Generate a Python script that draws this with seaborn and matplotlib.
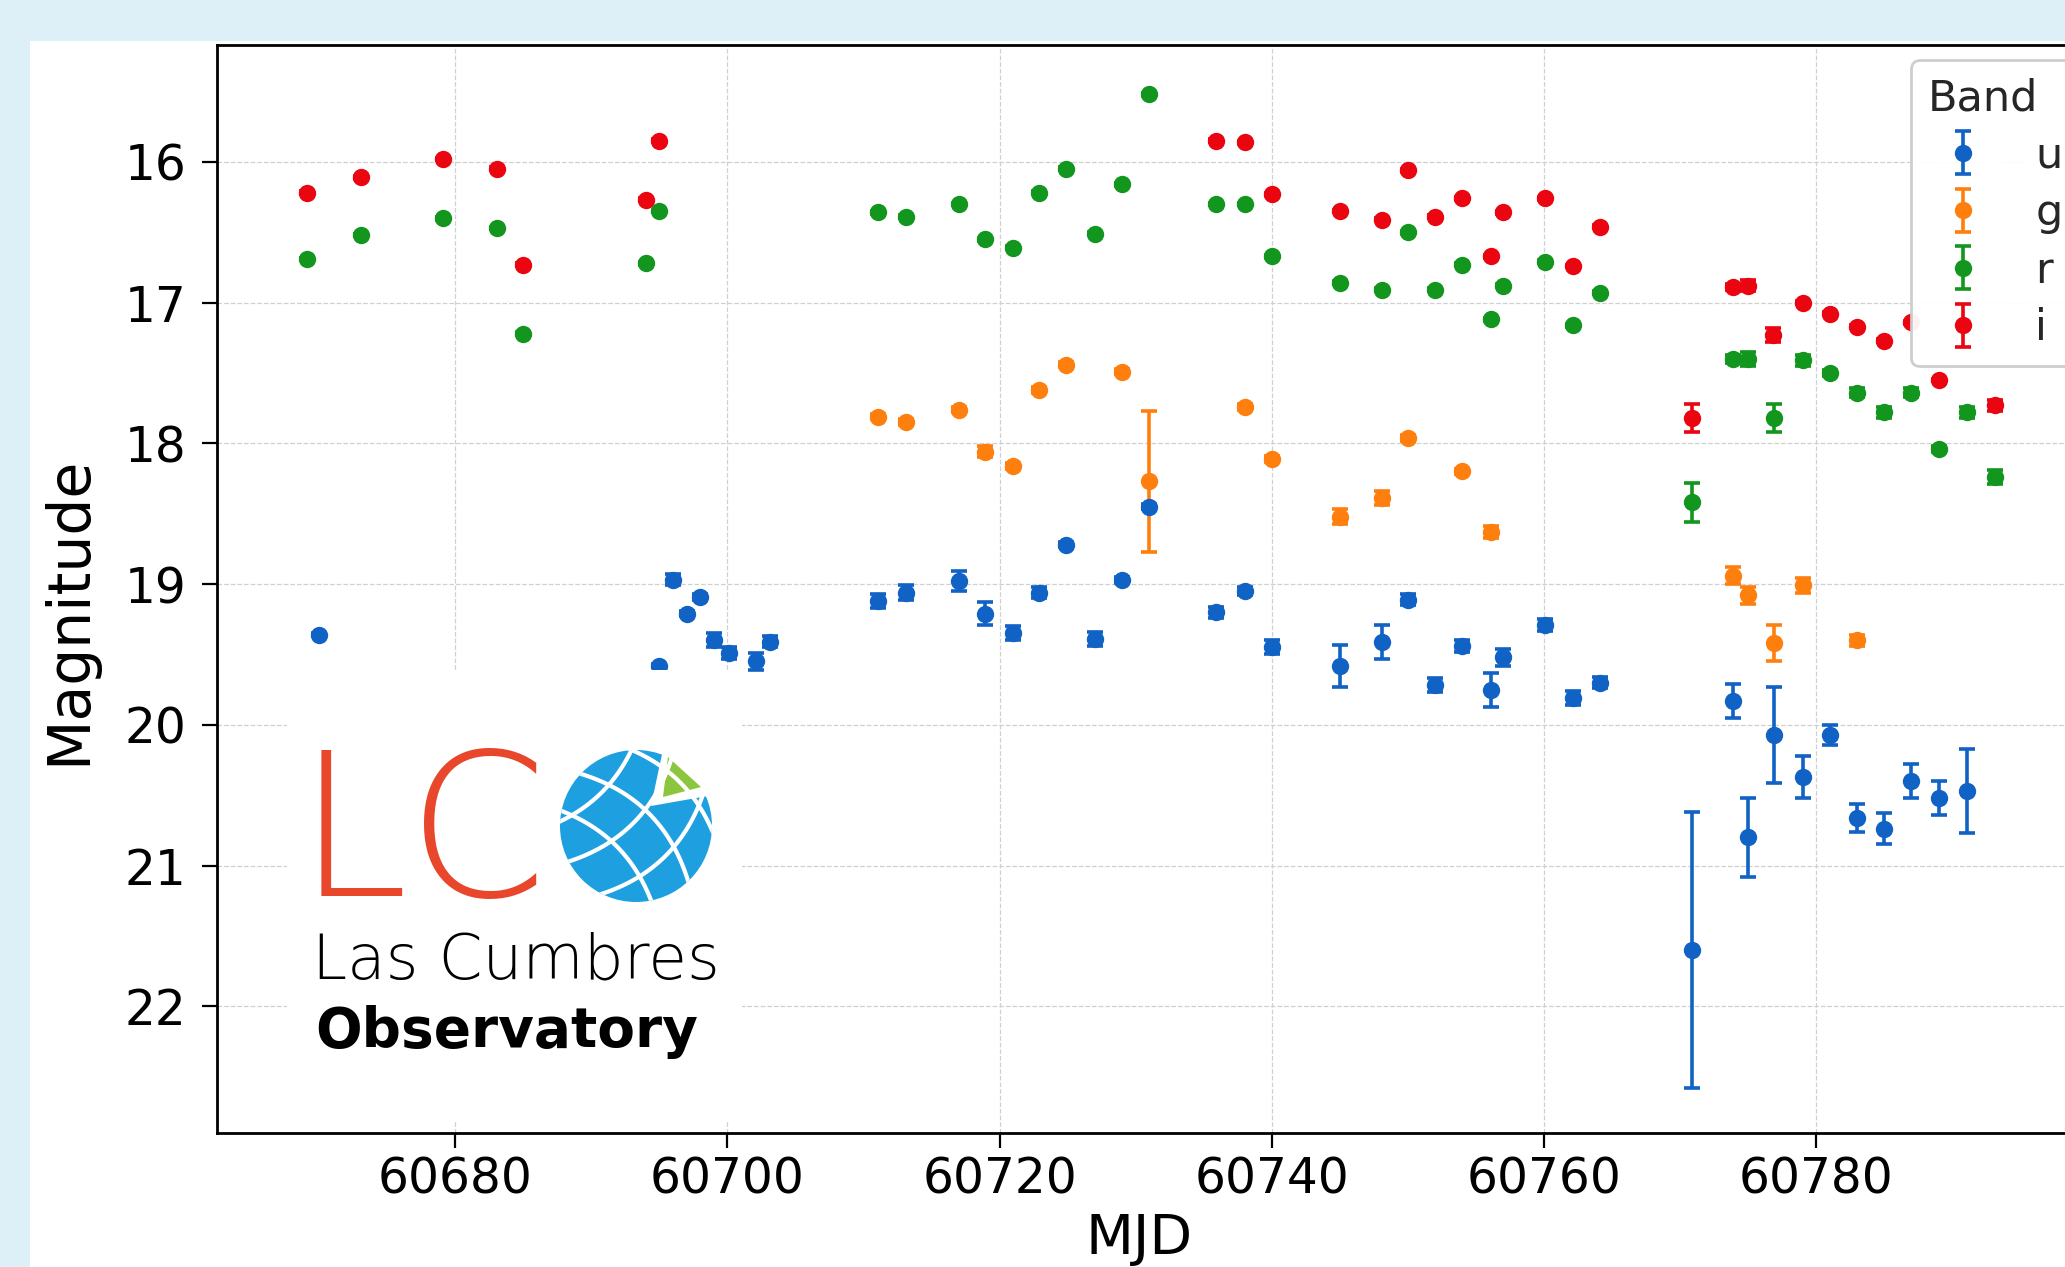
import numpy as np
import pandas as pd
import seaborn as sns
import matplotlib.pyplot as plt
from matplotlib.patches import Rectangle, Circle, Polygon

# light curve, one set of lists per band (MJD, magnitude, 1-sigma error)
u_mjd = [60670.0, 60695.0, 60696.0, 60697.0, 60698.0, 60699.0, 60700.1, 60702.1, 60703.1,
         60711.1, 60713.1, 60717.0, 60718.9, 60721.0, 60722.9, 60724.9, 60727.0, 60729.0,
         60731.0, 60735.9, 60738.0, 60740.0, 60745.0, 60748.1, 60750.0, 60752.0, 60754.0,
         60756.1, 60757.0, 60760.1, 60762.1, 60764.1, 60770.9, 60773.9, 60775.0, 60776.9,
         60779.0, 60781.0, 60783.0, 60785.0, 60787.0, 60789.0, 60791.1]
u_mag = [19.36, 19.58, 18.97, 19.21, 19.09, 19.40, 19.49, 19.55, 19.41,
         19.12, 19.06, 18.98, 19.21, 19.35, 19.06, 18.72, 19.39, 18.97,
         18.45, 19.20, 19.05, 19.45, 19.58, 19.41, 19.11, 19.72, 19.44,
         19.75, 19.52, 19.29, 19.81, 19.70, 21.60, 19.83, 20.80, 20.07,
         20.37, 20.07, 20.66, 20.74, 20.40, 20.52, 20.47]
u_err = [0.01, 0.01, 0.04, 0.02, 0.02, 0.05, 0.04, 0.06, 0.04,
         0.05, 0.05, 0.07, 0.08, 0.05, 0.04, 0.02, 0.05, 0.02,
         0.02, 0.04, 0.03, 0.05, 0.15, 0.12, 0.04, 0.05, 0.04,
         0.12, 0.06, 0.04, 0.05, 0.04, 0.98, 0.12, 0.28, 0.34,
         0.15, 0.07, 0.10, 0.11, 0.12, 0.12, 0.30]

g_mjd = [60711.1, 60713.1, 60717.0, 60718.9, 60721.0, 60722.9, 60724.9, 60729.0, 60731.0,
         60738.0, 60740.0, 60745.0, 60748.1, 60750.0, 60754.0, 60756.1, 60773.9, 60775.0,
         60776.9, 60779.0, 60783.0]
g_mag = [17.81, 17.85, 17.76, 18.06, 18.16, 17.62, 17.44, 17.49, 18.27,
         17.74, 18.11, 18.52, 18.39, 17.96, 18.20, 18.63, 18.94, 19.08,
         19.42, 19.01, 19.40]
g_err = [0.02, 0.02, 0.02, 0.04, 0.02, 0.02, 0.02, 0.02, 0.50,
         0.02, 0.02, 0.05, 0.05, 0.02, 0.02, 0.04, 0.06, 0.06,
         0.13, 0.05, 0.04]

r_mjd = [60669.1, 60673.1, 60679.1, 60683.1, 60685.0, 60694.0, 60695.0, 60711.1, 60713.1,
         60717.0, 60718.9, 60721.0, 60722.9, 60724.9, 60727.0, 60729.0, 60731.0, 60735.9,
         60738.0, 60740.0, 60745.0, 60748.1, 60750.0, 60752.0, 60754.0, 60756.1, 60757.0,
         60760.1, 60762.1, 60764.1, 60770.9, 60773.9, 60775.0, 60776.9, 60779.0, 60781.0,
         60783.0, 60785.0, 60787.0, 60789.0, 60791.1, 60793.1]
r_mag = [16.69, 16.52, 16.40, 16.47, 17.22, 16.72, 16.35, 16.36, 16.39,
         16.30, 16.55, 16.61, 16.22, 16.05, 16.51, 16.16, 15.52, 16.30,
         16.30, 16.67, 16.86, 16.91, 16.50, 16.91, 16.73, 17.12, 16.88,
         16.71, 17.16, 16.93, 18.42, 17.40, 17.40, 17.82, 17.41, 17.50,
         17.64, 17.78, 17.64, 18.04, 17.78, 18.24]
r_err = [0.01, 0.01, 0.01, 0.01, 0.01, 0.01, 0.01, 0.01, 0.01,
         0.01, 0.01, 0.01, 0.01, 0.01, 0.01, 0.01, 0.01, 0.01,
         0.01, 0.01, 0.01, 0.01, 0.01, 0.01, 0.01, 0.01, 0.01,
         0.01, 0.01, 0.01, 0.14, 0.03, 0.05, 0.10, 0.04, 0.02,
         0.03, 0.04, 0.03, 0.02, 0.04, 0.05]

i_mjd = [60669.1, 60673.1, 60679.1, 60683.1, 60685.0, 60694.0, 60695.0, 60735.9, 60738.0,
         60740.0, 60745.0, 60748.1, 60750.0, 60752.0, 60754.0, 60756.1, 60757.0, 60760.1,
         60762.1, 60764.1, 60770.9, 60773.9, 60775.0, 60776.8, 60779.0, 60781.0, 60783.0,
         60785.0, 60787.0, 60789.0, 60793.1]
i_mag = [16.22, 16.11, 15.98, 16.05, 16.73, 16.27, 15.85, 15.85, 15.86,
         16.23, 16.35, 16.41, 16.06, 16.39, 16.26, 16.67, 16.36, 16.26,
         16.74, 16.46, 17.82, 16.89, 16.88, 17.23, 17.00, 17.08, 17.17,
         17.27, 17.14, 17.55, 17.73]
i_err = [0.01, 0.01, 0.01, 0.01, 0.01, 0.01, 0.01, 0.01, 0.01,
         0.01, 0.01, 0.01, 0.01, 0.01, 0.01, 0.01, 0.01, 0.01,
         0.01, 0.01, 0.10, 0.02, 0.04, 0.05, 0.01, 0.01, 0.01,
         0.01, 0.01, 0.01, 0.04]

bands = ['u', 'g', 'r', 'i']
band_colors = ['#1062c4', '#ff7f0e', '#12961e', '#eb0510']
x_ticks = [60680, 60700, 60720, 60740, 60760, 60780]
y_ticks = [16, 17, 18, 19, 20, 21, 22]

frames = []
for b, m, y, e in [('u', u_mjd, u_mag, u_err), ('g', g_mjd, g_mag, g_err),
                   ('r', r_mjd, r_mag, r_err), ('i', i_mjd, i_mag, i_err)]:
    frames.append(pd.DataFrame({'band': b, 'mjd': m, 'mag': y, 'err': e}))
df = pd.concat(frames, ignore_index=True)

W, H = 2065, 1267
sns.set_theme(style='ticks')
plt.rcParams['font.family'] = ['DejaVu Sans']

fig = plt.figure(figsize=(W / 100, H / 100), dpi=100, facecolor='#ddeff7')
# white card behind the plot
fig.add_artist(Rectangle((30 / W, 0), 1, 1 - 41 / H, transform=fig.transFigure,
                         facecolor='white', edgecolor='none', zorder=-1))

ax = fig.add_axes([217 / W, 1 - 1133 / H, (2068 - 217) / W, (1133 - 45) / H])
ax.set_facecolor('white')

palette = dict(zip(bands, band_colors))
for b in bands:
    sub = df[df['band'] == b]
    cont = ax.errorbar(sub['mjd'], sub['mag'], yerr=sub['err'], fmt='o', color=palette[b],
                       ms=12.5, elinewidth=2.6, capsize=6, capthick=2.6, label=b)
    cont[0].set_markeredgewidth(0)

ax.set_xlim(60662.5, 60798.5)
ax.set_ylim(22.9, 15.17)
ax.set_xticks(x_ticks)
ax.set_yticks(y_ticks)
ax.grid(True, ls='--', lw=0.9, color='#d0d0d0')
ax.set_axisbelow(True)
for s in ['left', 'bottom', 'top']:
    ax.spines[s].set_color('black')
    ax.spines[s].set_linewidth(2)
ax.spines['right'].set_visible(False)
ax.tick_params(axis='both', direction='out', length=10.5, width=1.6, color='black',
               labelcolor='black', labelsize=35)
ax.tick_params(axis='x', pad=6)
ax.tick_params(axis='y', pad=11.5)

ax.set_xlabel('MJD', fontsize=40, color='black')
ax.xaxis.set_label_coords(0.498, -0.0725)
ax.set_ylabel('Magnitude', fontsize=42, color='black')
ax.yaxis.set_label_coords(-0.0648, 0.48)

leg = ax.legend(title='Band', loc='upper left', bbox_to_anchor=(1911 / W, 1 - 60 / H),
                bbox_transform=fig.transFigure, borderaxespad=0, fontsize=31,
                title_fontsize=31, labelspacing=0.36, handlelength=1.63,
                handletextpad=0.86, framealpha=0.95, edgecolor='#cccccc',
                fancybox=True, alignment='left')
leg.get_frame().set_linewidth(2)

# LCO logo, drawn in its own pixel-unit axes on a white box
lax = fig.add_axes([287 / W, 1 - 1122 / H, 455 / W, 452 / H], zorder=5)
lax.set_xlim(0, 455)
lax.set_ylim(452, 0)
lax.set_facecolor('white')
lax.set_xticks([])
lax.set_yticks([])
for s in lax.spines.values():
    s.set_visible(False)

lax.text(10, 226, 'LC', fontsize=144, color='#e8472c', fontweight='ultralight',
         family='DejaVu Sans', va='baseline', ha='left')

centre = np.array([349.0, 156.0])
globe = Circle(centre, 76, facecolor='#1ea0e0', edgecolor='none')
lax.add_patch(globe)
t = np.linspace(-110, 110, 80)
dir_a = np.array([1.0, 1.0]) / np.sqrt(2)
nor_a = np.array([-1.0, 1.0]) / np.sqrt(2)
for d in (-62, -18, 28):
    pts = centre + t[:, None] * dir_a + (d + 0.0035 * t ** 2)[:, None] * nor_a
    ln, = lax.plot(pts[:, 0], pts[:, 1], color='white', lw=3)
    ln.set_clip_path(globe)
dir_b = np.array([1.0, -1.0]) / np.sqrt(2)
nor_b = np.array([1.0, 1.0]) / np.sqrt(2)
for d in (-48, -4, 42):
    pts = centre + t[:, None] * dir_b + (d - 0.0035 * t ** 2)[:, None] * nor_b
    ln, = lax.plot(pts[:, 0], pts[:, 1], color='white', lw=3)
    ln.set_clip_path(globe)
apex = np.array([364.0, 136.0])
ang = np.radians(np.linspace(10, 78, 20))
bite = np.vstack([apex, np.column_stack([apex[0] + 120 * np.cos(ang), apex[1] - 120 * np.sin(ang)])])
lax.add_patch(Polygon(bite, closed=True, facecolor='white', edgecolor='none'))
lax.add_patch(Polygon([[381, 87], [414, 117], [376, 127]], closed=True,
                      facecolor='#8cc63f', edgecolor='none'))

lax.text(25, 308, 'Las Cumbres', fontsize=45.4, color='black', fontweight='ultralight',
         family='DejaVu Sans', va='baseline', ha='left')
lax.text(28, 377, 'Observatory', fontsize=39.5, color='black', fontweight='bold',
         family='DejaVu Sans', va='baseline', ha='left')

fig.savefig('out.png', dpi=100, facecolor=fig.get_facecolor())
